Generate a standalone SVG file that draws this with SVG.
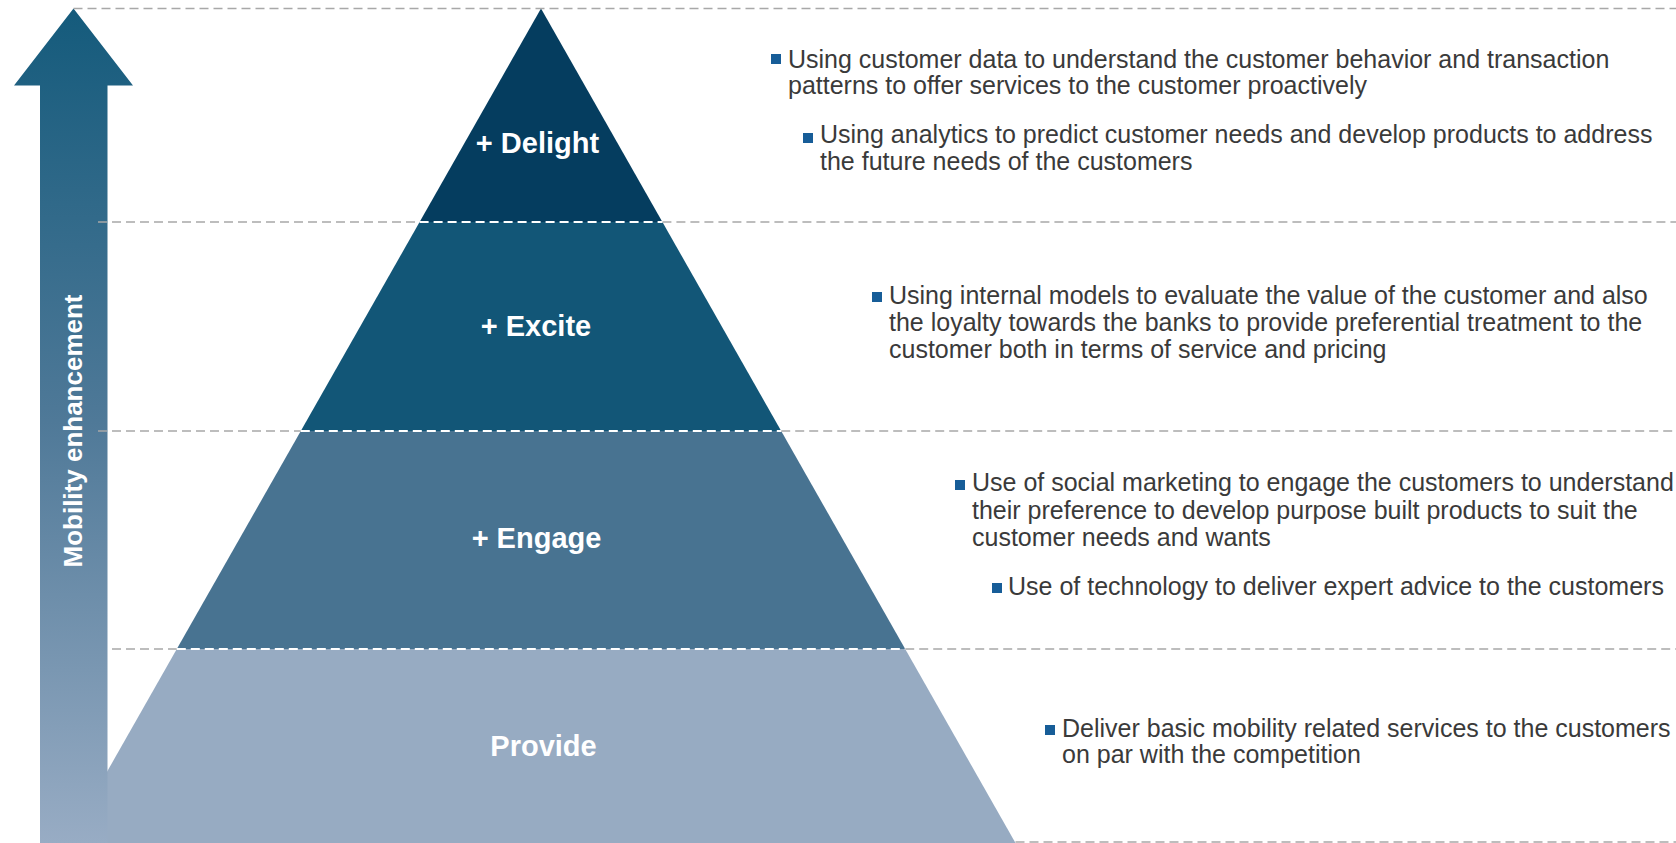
<svg xmlns="http://www.w3.org/2000/svg" width="1676" height="843" viewBox="0 0 1676 843">
<defs>
<linearGradient id="arrowGrad" x1="0" y1="0" x2="0" y2="843" gradientUnits="userSpaceOnUse">
<stop offset="0" stop-color="#135a7b"/>
<stop offset="0.5" stop-color="#4f7998"/>
<stop offset="1" stop-color="#98acc4"/>
</linearGradient>
</defs>
<style>
.guide{stroke:#a8a8a8;stroke-width:1.6;stroke-dasharray:9 5;fill:none}
.wguide{stroke:#ffffff;stroke-width:1.8;stroke-dasharray:9 5;fill:none}
.lbl{font-family:"Liberation Sans",Arial,sans-serif;font-weight:bold;font-size:29px;fill:#ffffff;text-anchor:middle}
.desc{font-family:"Liberation Sans",Arial,sans-serif;font-size:25px;fill:#3a3a3a}
.bul{fill:#175d98}
</style>
<g id="tier-provide">
<polygon points="176.8,649 905.2,649 1015.5,843 66.5,843" fill="#97abc2"/>
<text class="lbl" x="543.5" y="756" fill="#f3f6f9">Provide</text>
</g>
<g id="tier-engage">
<polygon points="300.8,431 781.2,431 905.2,649 176.8,649" fill="#487391"/>
<text class="lbl" x="536.5" y="547.5">+ Engage</text>
</g>
<g id="tier-excite">
<polygon points="419.6,222 662.4,222 781.2,431 300.8,431" fill="#125677"/>
<text class="lbl" x="536" y="335.5">+ Excite</text>
</g>
<g id="tier-delight">
<polygon points="541,8.5 662.4,222 419.6,222" fill="#053d5f"/>
<text class="lbl" x="537.5" y="152.5">+ Delight</text>
</g>
<g id="axis-arrow">
<polygon points="73.5,8.5 133,85.5 107.5,85.5 107.5,843 40,843 40,85.5 14,85.5" fill="url(#arrowGrad)"/>
<text transform="translate(82,431) rotate(-90)" font-family="Liberation Sans, Arial, sans-serif" font-weight="bold" font-size="26" fill="#ffffff" text-anchor="middle">Mobility enhancement</text>
</g>
<g id="connectors">
<line class="guide" x1="73.5" y1="8.5" x2="1676" y2="8.5"/>
<line class="guide" x1="98" y1="222" x2="419.6" y2="222"/>
<line class="guide" x1="662.4" y1="222" x2="1676" y2="222"/>
<line class="guide" x1="98" y1="431" x2="300.8" y2="431"/>
<line class="guide" x1="781.2" y1="431" x2="1676" y2="431"/>
<line class="guide" x1="112" y1="649" x2="176.8" y2="649"/>
<line class="guide" x1="905.2" y1="649" x2="1676" y2="649"/>
<line class="guide" x1="1015.5" y1="842" x2="1676" y2="842"/>
<line class="wguide" x1="419.6" y1="222" x2="662.4" y2="222"/>
<line class="wguide" x1="300.8" y1="431" x2="781.2" y2="431"/>
<line class="wguide" x1="176.8" y1="649" x2="905.2" y2="649"/>
</g>
<g id="desc-delight">
<rect class="bul" x="771" y="54" width="10" height="10"/>
<text class="desc" x="788" y="68">Using customer data to understand the customer behavior and transaction</text>
<text class="desc" x="788" y="94">patterns to offer services to the customer proactively</text>
<rect class="bul" x="803" y="133" width="10" height="10"/>
<text class="desc" x="820" y="143">Using analytics to predict customer needs and develop products to address</text>
<text class="desc" x="820" y="170">the future needs of the customers</text>
</g>
<g id="desc-excite">
<rect class="bul" x="872" y="292" width="10" height="10"/>
<text class="desc" x="889" y="304">Using internal models to evaluate the value of the customer and also</text>
<text class="desc" x="889" y="331">the loyalty towards the banks to provide preferential treatment to the</text>
<text class="desc" x="889" y="358">customer both in terms of service and pricing</text>
</g>
<g id="desc-engage">
<rect class="bul" x="955" y="480" width="10" height="10"/>
<text class="desc" x="972" y="491">Use of social marketing to engage the customers to understand</text>
<text class="desc" x="972" y="519">their preference to develop purpose built products to suit the</text>
<text class="desc" x="972" y="546">customer needs and wants</text>
<rect class="bul" x="992" y="583" width="10" height="10"/>
<text class="desc" x="1008" y="595">Use of technology to deliver expert advice to the customers</text>
</g>
<g id="desc-provide">
<rect class="bul" x="1045" y="725" width="10" height="10"/>
<text class="desc" x="1062" y="737">Deliver basic mobility related services to the customers</text>
<text class="desc" x="1062" y="763">on par with the competition</text>
</g>
</svg>
